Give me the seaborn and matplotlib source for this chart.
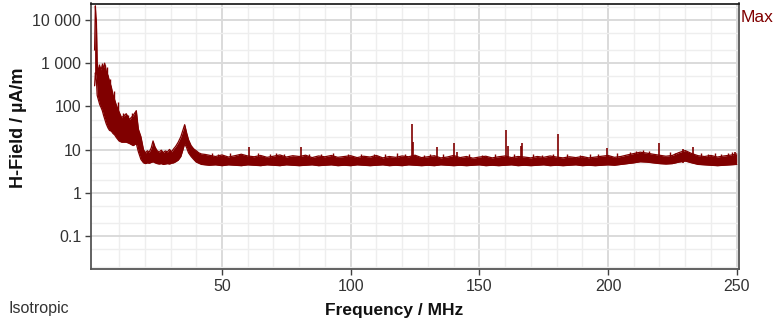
import numpy as np
import pandas as pd
import matplotlib
matplotlib.use("Agg")
import matplotlib.pyplot as plt
from matplotlib.ticker import FixedLocator, NullFormatter
import seaborn as sns

# ---------------- data ----------------
# envelope of the measured spectrum: frequency (MHz), upper and lower edge (µA/m)
freq = [0.5, 0.8, 1.0, 1.2, 1.5, 2.0, 2.5, 3.0, 3.5, 4.0, 4.4, 5.0, 5.7, 6.3, 7.0,
        7.6, 8.3, 9.0, 10.0, 11.0, 12.0, 12.8, 14.0, 15.5, 16.7, 17.5, 18.5, 19.5,
        20.3, 21.0, 21.7, 22.5, 23.2, 24.0, 24.8, 25.6, 26.4, 27.2, 28.0, 28.8,
        29.6, 30.4, 31.2, 32.0, 33.0, 34.0, 34.8, 35.5,
        36.3, 37.0, 38.0, 39.0, 40.0, 41.0, 42.0, 43.5,
        45, 47.5, 50, 52.5, 55, 57.5, 60, 62.5, 65, 67.5, 70, 72.5, 75, 77.5, 80,
        82.5, 85, 87.5, 90, 92.5, 95, 97.5, 100, 102.5, 105, 107.5, 110, 112.5,
        115, 117.5, 120, 122.5, 125, 127.5, 130, 132.5, 135, 137.5, 140, 142.5,
        145, 147.5, 150, 152.5, 155, 157.5, 160, 162.5, 165, 167.5, 170, 172.5,
        175, 177.5, 180, 182.5, 185, 187.5, 190, 192.5, 195, 197.5, 200, 202.5,
        205, 207.5, 210, 212.5, 215, 217.5, 220, 222.5, 225, 227.5, 230, 232.5,
        235, 237.5, 240, 242.5, 245, 247.5, 250]
upper = [2000, 21000, 12000, 9000, 1000, 650, 850, 700, 900, 800, 1000, 650, 520,
         380, 280, 190, 140, 105, 75, 55, 62, 68, 50, 62, 80, 30, 20, 10,
         8.5, 9.5, 8.8, 11.0, 16.0, 11.5, 9.5, 8.8, 9.8, 8.6, 9.4, 8.9,
         10.2, 9.0, 10.5, 12.0, 15.0, 20.0, 28.0, 38.0,
         24.0, 17.0, 12.5, 10.5, 9.5, 8.5, 8.0, 7.8,
         7.5, 7.0, 7.6, 6.8, 7.3, 7.9, 7.2, 6.9, 7.4, 6.7, 7.1, 7.6, 6.8, 7.3, 7.0,
         7.5, 6.6, 7.2, 6.9, 7.4, 6.7, 7.0, 7.3, 6.6, 7.1, 6.8, 7.4, 6.5,
         7.0, 6.7, 7.2, 6.9, 7.5, 6.6, 6.9, 7.3, 6.5, 6.8, 7.4, 6.6,
         7.0, 6.4, 6.8, 7.1, 6.5, 6.9, 7.2, 6.6, 7.0, 6.8, 6.5, 7.0,
         6.7, 7.2, 6.8, 6.5, 6.9, 6.6, 7.0, 6.5, 6.8, 7.1, 7.4, 6.7,
         7.0, 7.6, 8.2, 8.8, 8.4, 7.9, 7.5, 7.1, 7.4, 8.6, 9.6, 8.2,
         7.3, 7.0, 7.4, 6.8, 7.2, 7.5, 8.0]
lower = [300, 600, 500, 400, 180, 140, 110, 95, 80, 62, 52, 40, 32,
         28, 27, 24, 22, 19, 16, 15, 15, 15, 14, 12.5, 14, 9.0, 6.0, 5.0,
         4.8, 5.0, 4.9, 5.1, 5.3, 5.0, 4.8, 4.7, 4.8, 4.6, 4.7, 4.8,
         4.7, 4.9, 5.0, 5.3, 5.8, 7.0, 10.0, 14.0,
         11.0, 8.5, 7.0, 6.0, 5.2, 4.9, 4.6, 4.5,
         4.4, 4.5, 4.3, 4.5, 4.4, 4.3, 4.5, 4.4, 4.3, 4.5, 4.4, 4.3, 4.5, 4.4, 4.3,
         4.4, 4.5, 4.3, 4.4, 4.5, 4.3, 4.4, 4.3, 4.5, 4.4, 4.3, 4.4, 4.5,
         4.3, 4.4, 4.3, 4.5, 4.4, 4.3, 4.4, 4.3, 4.5, 4.4, 4.3, 4.4,
         4.3, 4.4, 4.5, 4.3, 4.4, 4.3, 4.4, 4.5, 4.3, 4.4, 4.3, 4.4,
         4.5, 4.3, 4.4, 4.3, 4.4, 4.5, 4.3, 4.4, 4.3, 4.4, 4.5, 4.4,
         4.6, 4.8, 5.0, 5.3, 5.2, 5.0, 4.8, 4.7, 4.8, 5.2, 5.5, 5.0,
         4.6, 4.5, 4.4, 4.3, 4.4, 4.5, 4.6]

# narrow-band spikes above the noise floor
spike_freq = [60.6, 80.6, 123.7, 124.2, 133.4, 140.3, 141.5, 160.3, 161.0,
              166.0, 166.4, 180.4, 199.8, 219.9, 229.2, 232.9, 249.3]
spike_level = [11.5, 11.5, 40.0, 15.0, 11.6, 14.0, 9.0, 28.0, 12.0,
               12.0, 14.5, 23.0, 11.0, 14.0, 10.5, 11.6, 9.0]

# small noise peaks on the upper edge of the band (from base to peak)
small_freq = [2.2, 3.2, 4.6, 5.3, 6.6, 8.0, 9.5, 11.5, 13.3, 15.0, 16.2,
              46.0, 48.5, 53.0, 56.5, 64.0, 68.5, 71.0, 74.0, 84.0, 88.5, 93.0,
              99.0, 104.0, 109.0, 113.5, 118.0, 121.0, 128.5, 131.0, 136.0, 146.0,
              151.0, 156.0, 163.5, 171.0, 174.5, 178.5, 184.0, 189.0, 193.0,
              196.0, 203.5, 208.5, 211.0, 213.5, 216.0, 224.0, 226.0, 236.0,
              239.0, 241.5, 244.0, 246.5, 248.0]
small_base = [300, 250, 200, 150, 100, 70, 50, 35, 35, 35, 40,
              5.0, 5.0, 5.0, 5.0, 5.0, 5.0, 5.0, 5.0, 5.0, 5.0, 5.0,
              5.0, 5.0, 5.0, 5.0, 5.0, 5.0, 5.0, 5.0, 5.0, 5.0,
              5.0, 5.0, 5.0, 5.0, 5.0, 5.0, 5.0, 5.0, 5.0,
              5.0, 5.0, 5.5, 5.5, 5.5, 5.5, 5.5, 5.5, 5.0,
              5.0, 5.0, 5.0, 5.0, 5.0]
small_level = [950, 1000, 900, 800, 420, 230, 130, 70, 62, 70, 75,
               8.6, 8.2, 8.4, 8.0, 8.5, 7.9, 8.3, 8.0, 8.1, 7.8, 8.4,
               7.9, 8.2, 7.8, 8.0, 8.3, 7.9, 7.7, 8.1, 7.8, 8.2,
               7.7, 8.0, 7.8, 8.1, 7.7, 8.2, 7.9, 7.6, 8.0,
               7.8, 8.3, 9.0, 9.5, 9.8, 9.2, 8.8, 8.6, 8.4,
               8.0, 8.3, 7.9, 8.6, 8.9]

x_ticks = [50, 100, 150, 200, 250]
y_ticks = [0.1, 1, 10, 100, 1000, 10000]
y_tick_labels = ["0.1", "1", "10", "100", "1 000", "10 000"]

# ---------------- styling ----------------
sns.set_theme(style="white")
plt.rcParams["font.family"] = ["Liberation Sans", "DejaVu Sans"]

LINE = "#800000"

df = pd.DataFrame({"freq": freq, "upper": upper, "lower": lower})
spikes = pd.DataFrame({"freq": spike_freq, "level": spike_level})
small = pd.DataFrame({"freq": small_freq, "base": small_base, "level": small_level})

fig = plt.figure(figsize=(7.79, 3.28), dpi=100)
ax = fig.add_axes([91 / 779, 1 - 269 / 328, (739 - 91) / 779, (269 - 3.5) / 328])

ax.set_yscale("log")
ax.set_xlim(-0.9, 250.9)
ax.set_ylim(10 ** -1.752, 10 ** 4.377)

# grid
ax.xaxis.set_major_locator(FixedLocator(x_ticks))
ax.xaxis.set_minor_locator(FixedLocator([v for v in range(10, 250, 10) if v % 50]))
minor_y = [m * 10.0 ** e for e in range(-2, 5) for m in (2, 5)]
ax.yaxis.set_major_locator(FixedLocator(y_ticks))
ax.yaxis.set_minor_locator(FixedLocator(minor_y))
ax.yaxis.set_minor_formatter(NullFormatter())
ax.grid(which="major", color="#dadada", linewidth=1.4)
ax.grid(which="minor", color="#eeeeee", linewidth=1.0)
ax.set_axisbelow(True)

# spectrum band
ax.fill_between(df["freq"], df["lower"], df["upper"], color=LINE, linewidth=0, zorder=3)
sns.lineplot(data=df, x="freq", y="upper", color=LINE, linewidth=0.9, ax=ax, zorder=4)
sns.lineplot(data=df, x="freq", y="lower", color=LINE, linewidth=0.9, ax=ax, zorder=4)
ax.vlines(small["freq"], small["base"], small["level"], color=LINE, linewidth=1.0, zorder=4)
ax.vlines(spikes["freq"], 5.0, spikes["level"], color=LINE, linewidth=1.2, zorder=4)

# ticks
ax.set_yticks(y_ticks)
ax.set_yticklabels(y_tick_labels)
ax.set_xticks(x_ticks)
ax.set_xticklabels([str(v) for v in x_ticks])
ax.tick_params(which="major", direction="out", length=4, width=1.0, color="#404040",
               labelsize=11.5, labelcolor="#333333", pad=3, left=True, bottom=True)
ax.tick_params(which="minor", length=0)

for side in ["left", "bottom", "right"]:
    ax.spines[side].set_color("#555555")
    ax.spines[side].set_linewidth(1.3)
ax.spines["top"].set_color("#111111")
ax.spines["top"].set_linewidth(1.2)

ax.set_xlabel("")
ax.set_ylabel("")
fig.text(19 / 779, 1 - 128 / 328, "H-Field / µA/m", rotation=90, ha="center", va="center",
         fontsize=13, fontweight="bold", color="#111111")
fig.text(394 / 779, 1 - 310 / 328, "Frequency / MHz", ha="center", va="center",
         fontsize=12.5, fontweight="bold", color="#111111")
fig.text(9 / 779, 1 - 309 / 328, "Isotropic", ha="left", va="center",
         fontsize=11.5, color="#333333")
fig.text(741 / 779, 1 - 17 / 328, "Max", ha="left", va="center",
         fontsize=12.5, color=LINE)

fig.savefig("out.png", dpi=100)
